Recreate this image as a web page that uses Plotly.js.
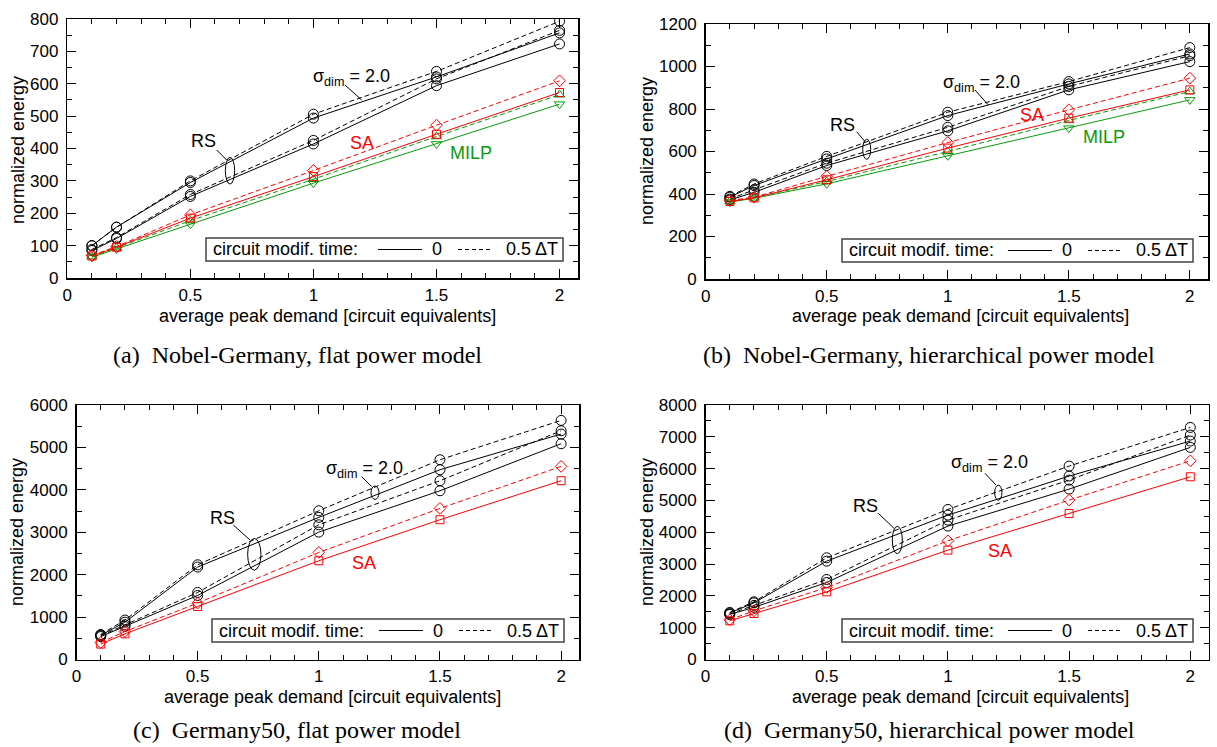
<!DOCTYPE html>
<html>
<head>
<meta charset="utf-8">
<script src="https://cdn.plot.ly/plotly-3.0.1.min.js"></script>
<style>html,body{margin:0;padding:0;background:#fff;}#chart{width:1217px;height:747px;}</style>
</head>
<body>
<div id="chart"></div>
<script>
// ---------------- data ----------------
const demand = [0.1, 0.2, 0.5, 1, 1.5, 2];

// (a) Nobel-Germany, flat power model
const a_rs_sigma2_solid  = [100, 157, 295, 494, 621, 757];
const a_rs_sigma2_dashed = [100, 157, 300, 506, 638, 793];
const a_rs_sigma1_solid  = [85, 122, 252, 414, 594, 723];
const a_rs_sigma1_dashed = [88, 125, 258, 425, 615, 765];
const a_sa_solid    = [68, 95, 185, 313, 444, 573];
const a_sa_dashed   = [70, 97, 195, 332, 472, 609];
const a_milp_solid  = [64, 90, 166, 293, 414, 537];
const a_milp_dashed = [66, 93, 177, 305, 437, 566];

// (b) Nobel-Germany, hierarchical power model
const b_rs_sigma2_solid  = [385, 440, 565, 769, 918, 1059];
const b_rs_sigma2_dashed = [389, 447, 577, 785, 929, 1089];
const b_rs_sigma1_solid  = [372, 408, 534, 697, 890, 1023];
const b_rs_sigma1_dashed = [376, 420, 545, 714, 906, 1051];
const b_sa_solid    = [365, 382, 467, 616, 757, 890];
const b_sa_dashed   = [370, 385, 483, 642, 796, 945];
const b_milp_solid  = [362, 380, 448, 580, 710, 843];
const b_milp_dashed = [365, 382, 459, 600, 746, 882];

// (c) Germany50, flat power model
const c_rs_sigma2_solid  = [570, 880, 2180, 3350, 4474, 5315];
const c_rs_sigma2_dashed = [590, 930, 2233, 3507, 4710, 5637];
const c_rs_sigma1_solid  = [540, 780, 1510, 3003, 3978, 5087];
const c_rs_sigma1_dashed = [560, 820, 1581, 3176, 4214, 5393];
const c_sa_solid  = [363, 606, 1251, 2328, 3295, 4215];
const c_sa_dashed = [400, 660, 1330, 2524, 3562, 4552];

// (d) Germany50, hierarchical power model
const d_rs_sigma2_solid  = [1460, 1780, 3092, 4539, 5765, 6866];
const d_rs_sigma2_dashed = [1480, 1813, 3197, 4717, 6080, 7296];
const d_rs_sigma1_solid  = [1415, 1640, 2421, 4193, 5356, 6667];
const d_rs_sigma1_dashed = [1430, 1700, 2516, 4382, 5639, 7055];
const d_sa_solid  = [1216, 1447, 2128, 3438, 4591, 5744];
const d_sa_dashed = [1250, 1530, 2264, 3732, 5010, 6247];

const captions = [
  "(a)\u2002Nobel-Germany, flat power model",
  "(b)\u2002Nobel-Germany, hierarchical power model",
  "(c)\u2002Germany50, flat power model",
  "(d)\u2002Germany50, hierarchical power model"
];
const xTitle = "average peak demand [circuit equivalents]";
const yTitle = "normalized energy";
const legendLabel = "circuit modif. time:";
const legendSolid = "0";
const legendDashed = "0.5 \u0394T";

// ---------------- styling ----------------
const W = 1217, H = 747;
const SANS = "Liberation Sans, Arial, Helvetica, sans-serif";
const SERIF = "Liberation Serif, Times New Roman, serif";
const BLACK = "#000000", RED = "#ff0000", GREEN = "#0a9a0a";
const DASH = "5px,3px";
const px = v => v / W;
const py = v => 1 - v / H;

function tr(n, y, color, dashed, symbol, size) {
  return {
    x: demand, y: y, xaxis: "x" + (n === 1 ? "" : n), yaxis: "y" + (n === 1 ? "" : n),
    mode: "lines+markers", hoverinfo: "skip",
    line: {color: color, width: 1, dash: dashed ? DASH : "solid"},
    marker: {symbol: symbol, size: size, color: color, line: {color: color, width: 1}}
  };
}

const traces = [
  tr(1, a_rs_sigma2_solid, BLACK, false, "circle-open", 10),
  tr(1, a_rs_sigma2_dashed, BLACK, true, "circle-open", 10),
  tr(1, a_rs_sigma1_solid, BLACK, false, "circle-open", 10),
  tr(1, a_rs_sigma1_dashed, BLACK, true, "circle-open", 10),
  tr(1, a_milp_solid, GREEN, false, "triangle-down-open", 9),
  tr(1, a_milp_dashed, GREEN, true, "triangle-up-open", 9),
  tr(1, a_sa_solid, RED, false, "square-open", 8),
  tr(1, a_sa_dashed, RED, true, "diamond-open", 9),

  tr(2, b_rs_sigma2_solid, BLACK, false, "circle-open", 10),
  tr(2, b_rs_sigma2_dashed, BLACK, true, "circle-open", 10),
  tr(2, b_rs_sigma1_solid, BLACK, false, "circle-open", 10),
  tr(2, b_rs_sigma1_dashed, BLACK, true, "circle-open", 10),
  tr(2, b_milp_solid, GREEN, false, "triangle-down-open", 9),
  tr(2, b_milp_dashed, GREEN, true, "triangle-up-open", 9),
  tr(2, b_sa_solid, RED, false, "square-open", 8),
  tr(2, b_sa_dashed, RED, true, "diamond-open", 9),

  tr(3, c_rs_sigma2_solid, BLACK, false, "circle-open", 10),
  tr(3, c_rs_sigma2_dashed, BLACK, true, "circle-open", 10),
  tr(3, c_rs_sigma1_solid, BLACK, false, "circle-open", 10),
  tr(3, c_rs_sigma1_dashed, BLACK, true, "circle-open", 10),
  tr(3, c_sa_solid, RED, false, "square-open", 8),
  tr(3, c_sa_dashed, RED, true, "diamond-open", 9),

  tr(4, d_rs_sigma2_solid, BLACK, false, "circle-open", 10),
  tr(4, d_rs_sigma2_dashed, BLACK, true, "circle-open", 10),
  tr(4, d_rs_sigma1_solid, BLACK, false, "circle-open", 10),
  tr(4, d_rs_sigma1_dashed, BLACK, true, "circle-open", 10),
  tr(4, d_sa_solid, RED, false, "square-open", 8),
  tr(4, d_sa_dashed, RED, true, "diamond-open", 9)
];

// plot-area pixel boxes [left, right, top, bottom]
const boxes = [
  [67.3, 578, 19, 278],
  [705.7, 1208, 24, 279],
  [76.5, 579.3, 405, 659.5],
  [705.5, 1208.5, 405, 659.5]
];
const yRanges = [[0, 800], [0, 1200], [0, 6000], [0, 8000]];
const yDticks = [100, 200, 1000, 1000];
const yMinor = [50, 100, 500, 500];

function xax(i) {
  const b = boxes[i];
  return {
    domain: [px(b[0]), px(b[1])], anchor: "y" + (i ? i + 1 : ""),
    range: [0, 2.075], tick0: 0, dtick: 0.5, ticks: "inside", ticklen: 9, tickwidth: 1, tickcolor: BLACK,
    minor: {dtick: 0.1, tick0: 0, ticks: "inside", ticklen: 5, tickwidth: 1, tickcolor: BLACK, showgrid: false},
    showline: true, linewidth: 1.5, linecolor: BLACK, mirror: "ticks",
    showgrid: false, zeroline: false, fixedrange: true, ticklabelstandoff: 1,
    tickfont: {family: SANS, size: 17, color: BLACK}
  };
}
function yax(i) {
  const b = boxes[i];
  return {
    domain: [py(b[3]), py(b[2])], anchor: "x" + (i ? i + 1 : ""),
    range: yRanges[i], tick0: 0, dtick: yDticks[i], ticks: "inside", ticklen: 9, tickwidth: 1, tickcolor: BLACK,
    minor: {dtick: yMinor[i], tick0: 0, ticks: "inside", ticklen: 5, tickwidth: 1, tickcolor: BLACK, showgrid: false},
    showline: true, linewidth: 1.5, linecolor: BLACK, mirror: "ticks",
    showgrid: false, zeroline: false, fixedrange: true, ticklabelstandoff: 4,
    tickfont: {family: SANS, size: 17, color: BLACK}
  };
}

const annotations = [];
const shapes = [];
function txt(text, x, y, opts) {
  annotations.push(Object.assign({
    text: text, x: px(x), y: py(y), xref: "paper", yref: "paper", showarrow: false,
    xanchor: "center", yanchor: "middle",
    font: {family: SANS, size: 18, color: BLACK}
  }, opts || {}));
}
function seg(x0, y0, x1, y1, dash) {
  shapes.push({type: "line", xref: "paper", yref: "paper", x0: px(x0), y0: py(y0), x1: px(x1), y1: py(y1),
    line: {color: BLACK, width: 1, dash: dash || "solid"}});
}
function ell(cx, cy, w, h) {
  shapes.push({type: "circle", xref: "paper", yref: "paper", x0: px(cx - w / 2), x1: px(cx + w / 2),
    y0: py(cy + h / 2), y1: py(cy - h / 2), line: {color: BLACK, width: 1}, fillcolor: "rgba(0,0,0,0)"});
}

// axis titles and captions
const xTitlePos = [[327, 316], [960, 316], [332, 697], [960, 697]];
const yTitlePos = [[18, 150], [647, 151], [17, 532], [647, 532]];
const capPos = [[297, 355], [929, 355], [297, 730], [929, 730]];
for (let i = 0; i < 4; i++) {
  txt(xTitle, xTitlePos[i][0], xTitlePos[i][1], {font: {family: SANS, size: 18, color: BLACK}});
  txt(yTitle, yTitlePos[i][0], yTitlePos[i][1], {textangle: -90, font: {family: SANS, size: 18, color: BLACK}});
  txt(captions[i], capPos[i][0], capPos[i][1], {font: {family: SERIF, size: 24, color: BLACK}});
}

// legend boxes [left, right, top, bottom]
const legBoxes = [[206, 563, 238, 261], [842, 1193, 239, 262], [212, 564, 619, 642], [842, 1193, 619, 642]];
legBoxes.forEach(b => {
  const L = b[0], R = b[1], cy = (b[2] + b[3]) / 2;
  shapes.push({type: "rect", xref: "paper", yref: "paper", x0: px(L), x1: px(R), y0: py(b[3]), y1: py(b[2]),
    line: {color: "#444", width: 1.5}, fillcolor: "#ffffff"});
  txt(legendLabel, L + 4.5, cy, {xanchor: "left"});
  seg(R - 185, cy, R - 141, cy);
  txt(legendSolid, R - 126, cy);
  seg(R - 105, cy, R - 70, cy, "4px,3px");
  txt(legendDashed, R - 3, cy, {xanchor: "right"});
});

// panel labels
// (a)
txt("RS", 203, 141); seg(216.7, 150, 226.7, 160); ell(230, 170.7, 9.3, 26.7);
txt("\u03c3<sub>dim</sub> = 2.0", 351, 78); seg(345, 85, 361.7, 100);
txt("SA", 362, 143, {font: {family: SANS, size: 18, color: RED}});
txt("MILP", 471, 153, {font: {family: SANS, size: 18, color: GREEN}});
// (b)
txt("RS", 842, 125); seg(856.7, 131.7, 865, 141.7); ell(866.7, 149.3, 8, 20);
txt("\u03c3<sub>dim</sub> = 2.0", 981, 84); seg(975, 90, 988.3, 105);
txt("SA", 1032, 115, {font: {family: SANS, size: 18, color: RED}});
txt("MILP", 1104, 137, {font: {family: SANS, size: 18, color: GREEN}});
// (c)
txt("RS", 222, 518); seg(233.3, 525, 250, 540); ell(254.3, 554.3, 13.3, 31.7);
txt("\u03c3<sub>dim</sub> = 2.0", 364, 469); seg(361.7, 476.7, 371.7, 486.7); ell(375, 492.7, 8, 13.3);
txt("SA", 364, 563, {font: {family: SANS, size: 18, color: RED}});
// (d)
txt("RS", 865, 506); seg(878.3, 513.3, 894, 528.3); ell(897.3, 540, 10, 27.3);
txt("\u03c3<sub>dim</sub> = 2.0", 989, 463); seg(985, 473.3, 996, 485); ell(998.3, 492.7, 7.3, 15);
txt("SA", 1000, 551, {font: {family: SANS, size: 18, color: RED}});

const layout = {
  width: W, height: H, margin: {l: 0, r: 0, t: 0, b: 0},
  paper_bgcolor: "#ffffff", plot_bgcolor: "#ffffff", showlegend: false,
  font: {family: SANS, color: BLACK},
  xaxis: xax(0), yaxis: yax(0), xaxis2: xax(1), yaxis2: yax(1),
  xaxis3: xax(2), yaxis3: yax(2), xaxis4: xax(3), yaxis4: yax(3),
  annotations: annotations, shapes: shapes
};
Plotly.newPlot("chart", traces, layout, {displayModeBar: false, staticPlot: true});
</script>
</body>
</html>
